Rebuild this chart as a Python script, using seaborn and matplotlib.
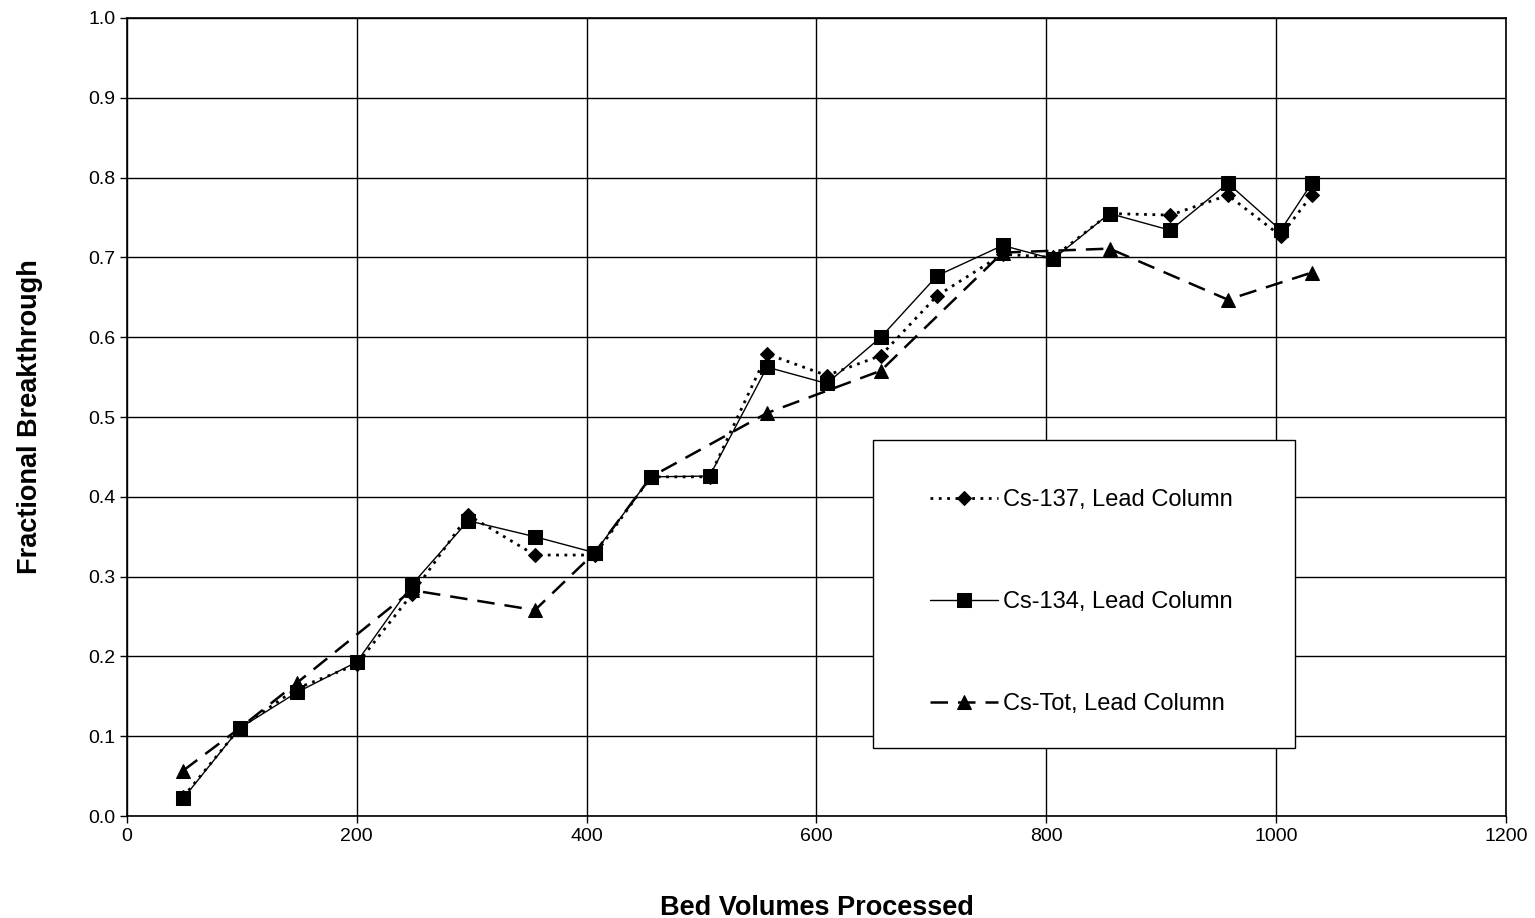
import pandas as pd
import seaborn as sns
import matplotlib.pyplot as plt
from matplotlib.patches import Rectangle

# Bed volumes for each series
bv_137 = [49, 98, 148, 200, 248, 297, 355, 407, 456, 507, 557, 609, 656, 705, 762, 806, 855, 908, 958, 1004, 1031]
bv_134 = [49, 98, 148, 200, 248, 297, 355, 407, 456, 507, 557, 609, 656, 705, 762, 806, 855, 908, 958, 1004, 1031]
bv_tot = [49, 98, 148, 248, 355, 407, 456, 557, 656, 762, 855, 958, 1031]

# Fractional breakthrough values
cs137 = [0.024, 0.11, 0.16, 0.19, 0.278, 0.377, 0.327, 0.327, 0.425, 0.425, 0.579, 0.552,
         0.577, 0.652, 0.704, 0.700, 0.755, 0.753, 0.778, 0.727, 0.778]
cs134 = [0.022, 0.11, 0.155, 0.193, 0.29, 0.37, 0.35, 0.33, 0.425, 0.426, 0.5625, 0.542,
         0.60, 0.677, 0.715, 0.698, 0.755, 0.734, 0.793, 0.734, 0.793]
cstot = [0.057, 0.11, 0.167, 0.283, 0.258, 0.33, 0.425, 0.505, 0.558, 0.706, 0.711, 0.647, 0.681]

labels = ['Cs-137, Lead Column', 'Cs-134, Lead Column', 'Cs-Tot, Lead Column']

sns.set_style("white")
plt.rcParams['font.family'] = ['Liberation Sans', 'DejaVu Sans']
plt.rcParams['text.color'] = 'black'
plt.rcParams['axes.labelcolor'] = 'black'
plt.rcParams['xtick.color'] = 'black'
plt.rcParams['ytick.color'] = 'black'

fig = plt.figure(figsize=(15.35, 9.18), dpi=100)
ax = fig.add_axes([0.0827, 0.1111, 0.8984, 0.8693])

df137 = pd.DataFrame({'bv': bv_137, 'frac': cs137})
df134 = pd.DataFrame({'bv': bv_134, 'frac': cs134})
dftot = pd.DataFrame({'bv': bv_tot, 'frac': cstot})

sns.lineplot(data=df137, x='bv', y='frac', ax=ax, color='black', linestyle=(0, (1, 2)),
             linewidth=2, marker='D', markersize=7.5, markeredgecolor='black', label=labels[0])
sns.lineplot(data=df134, x='bv', y='frac', ax=ax, color='black', linestyle='-',
             linewidth=1, marker='s', markersize=9.5, markeredgecolor='black', label=labels[1])
sns.lineplot(data=dftot, x='bv', y='frac', ax=ax, color='black', linestyle=(0, (7, 4)),
             linewidth=1.8, marker='^', markersize=9.5, markeredgecolor='black', label=labels[2])

ax.set_xlim(0, 1200)
ax.set_ylim(0, 1.0)
ax.set_xticks(range(0, 1201, 200))
ax.set_yticks([i / 10 for i in range(11)])
ax.set_yticklabels([f'{i / 10:.1f}' for i in range(11)])
ax.grid(True, color='black', linewidth=1)
ax.set_axisbelow(True)
for s in ax.spines.values():
    s.set_color('black')
    s.set_linewidth(1.2)
ax.tick_params(axis='both', labelsize=14, direction='out', length=5, width=1, color='black',
               left=True, bottom=True)

ax.set_xlabel('Bed Volumes Processed', fontsize=19.5, fontweight='bold', labelpad=36)
ax.set_ylabel('Fractional Breakthrough', fontsize=19.5, fontweight='bold', labelpad=32)

# legend box (Excel style, drawn separately so the padding can differ per side)
ax.add_patch(Rectangle((0.541, 0.085), 0.306, 0.386, transform=ax.transAxes,
                       facecolor='white', edgecolor='black', linewidth=1, zorder=4))
leg = ax.legend(loc='upper left', bbox_to_anchor=(0.582, 0.410), fontsize=17,
                frameon=False, borderpad=0, labelspacing=3.4, handlelength=2.9,
                handletextpad=0.2, borderaxespad=0)
leg.set_zorder(5)

plt.savefig('out.png', dpi=100)
